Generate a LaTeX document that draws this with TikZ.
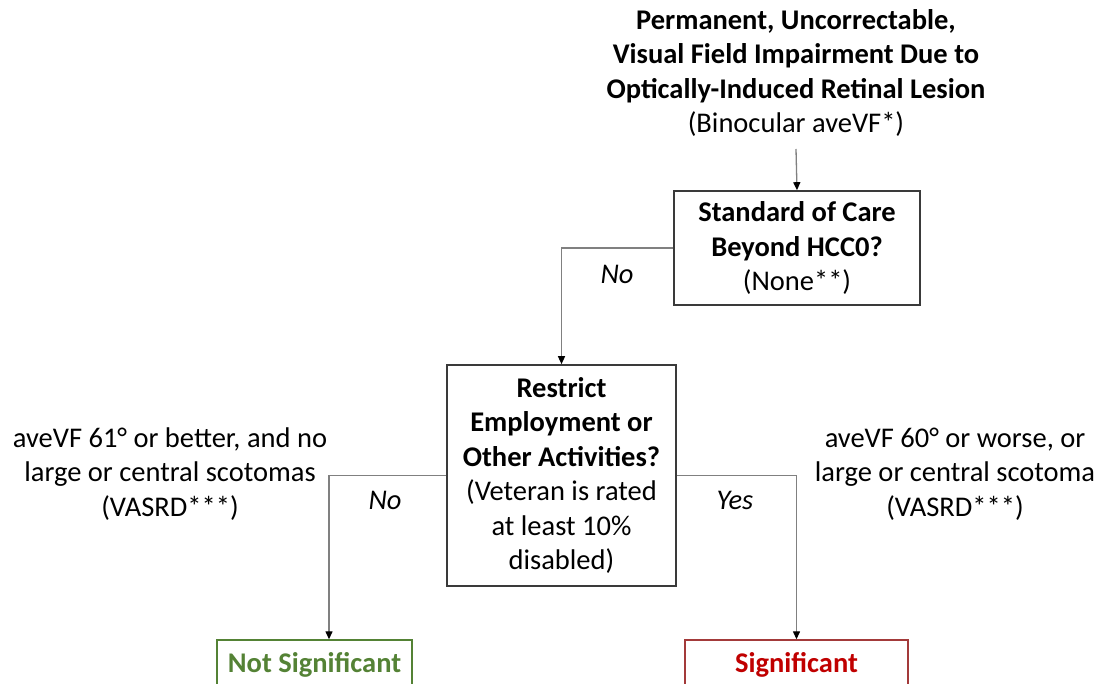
\documentclass[tikz,border=0pt]{standalone}
\usepackage{fontspec}
\setmainfont{Carlito}
\usetikzlibrary{arrows.meta}
\definecolor{boxline}{HTML}{3A3A3A}
\definecolor{connline}{HTML}{808080}
\definecolor{nsgreen}{HTML}{548235}
\definecolor{sigred}{HTML}{C00000}
\definecolor{sigline}{HTML}{A33A3A}
\tikzset{
  base/.style={font=\fontsize{28.5}{34.5}\selectfont, align=center, inner sep=0pt},
  decision/.style={base, draw=boxline, line width=1.6pt},
  conn/.style={draw=connline, line width=1.3pt, -{Triangle[width=7pt,length=8pt,fill=black,color=black]}},
  lbl/.style={base, font=\fontsize{28.5}{34.5}\selectfont\itshape},
}
\begin{document}
\begin{tikzpicture}[x=1pt,y=-1pt]
\useasboundingbox (0,0) rectangle (1098,684);
\clip (0,0) rectangle (1098,684);
\node[base] (title) at (796,73) {\textbf{Permanent, Uncorrectable,}\\\textbf{Visual Field Impairment Due to}\\\textbf{Optically-Induced Retinal Lesion}\\(Binocular aveVF*)};
\coordinate (tstart) at (796,149);
\node[decision, minimum width=246pt, minimum height=114pt] (b1) at (797,248) {\textbf{Standard of Care}\\\textbf{Beyond HCC0?}\\(None**)};
\node[decision, minimum width=229pt, minimum height=221pt] (b2) at (561.5,475.5) {\textbf{Restrict}\\\textbf{Employment or}\\\textbf{Other Activities?}\\(Veteran is rated\\at least 10\%\\disabled)};
\node[base, draw=nsgreen, line width=1.4pt, text=nsgreen, minimum width=195pt, minimum height=50pt, font=\fontsize{28.5}{34.5}\selectfont\bfseries] (ns) at (314.5,665) {Not Significant};
\node[base, draw=sigline, line width=1.4pt, text=sigred, minimum width=223pt, minimum height=50pt, font=\fontsize{28.5}{34.5}\selectfont\bfseries] (sig) at (796.5,665) {Significant};
\node[base] (lt) at (170,474) {aveVF 61° or better, and no\\large or central scotomas\\(VASRD***)};
\node[base] (rt) at (955,474) {aveVF 60° or worse, or\\large or central scotoma\\(VASRD***)};
\node[lbl] (no1) at (617,274) {No};
\node[lbl] (no2) at (385,500) {No};
\node[lbl] (yes) at (735,500) {Yes};
\draw[conn] (tstart) -- (b1.north);
\draw[conn] (b1.west) -| (b2.north);
\draw[conn] (b2.west) -| ([xshift=14.5pt]ns.north);
\draw[conn] (b2.east) -| (sig.north);
\end{tikzpicture}
\end{document}
